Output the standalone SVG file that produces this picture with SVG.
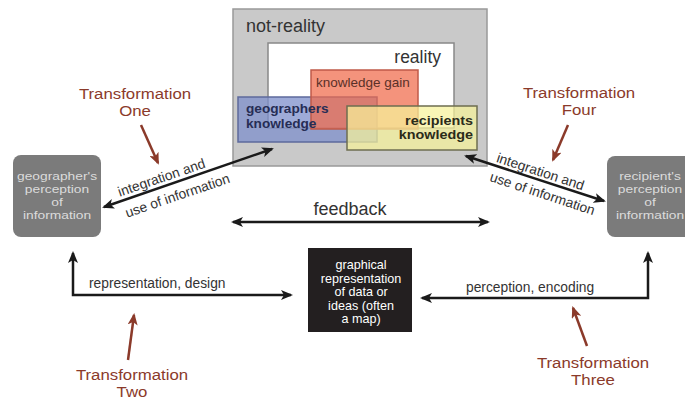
<svg xmlns="http://www.w3.org/2000/svg" width="685" height="403" viewBox="0 0 685 403">
<defs>
<style>
text{font-family:"Liberation Sans",Arial,sans-serif}
.lbl{font-size:13.8px;fill:#333}
.tr{font-size:15px;fill:#8b3a2a;text-anchor:middle}
.node{fill:#7b7b7b}
.ntx{font-size:11.5px;fill:#dcdcdc;text-anchor:middle}
.btx{font-size:12px;fill:#ffffff;text-anchor:middle}
.ar{stroke:#1a1a1a;stroke-width:2.5;fill:none}
.br{stroke:#8b3a2a;stroke-width:2.5;fill:none}
.kb{font-weight:bold}
</style>
<marker id="ah" viewBox="0 0 12 10" refX="10" refY="5" markerWidth="12" markerHeight="10" markerUnits="userSpaceOnUse" orient="auto-start-reverse">
<path d="M0,0 L12,5 L0,10 L3,5 z" fill="#1a1a1a"/>
</marker>
<marker id="bh" viewBox="0 0 12 10" refX="10" refY="5" markerWidth="12" markerHeight="10" markerUnits="userSpaceOnUse" orient="auto">
<path d="M0,0 L12,5 L0,10 L3,5 z" fill="#8b3a2a"/>
</marker>
</defs>
<rect width="685" height="403" fill="#ffffff"/>

<g id="not-reality">
<rect x="233" y="9" width="254" height="157" fill="#c9c9c9" stroke="#999" stroke-width="1.5"/>
<text x="246" y="32" font-size="18" fill="#333">not-reality</text>
</g>
<g id="reality">
<rect x="268" y="43" width="186" height="85" fill="#ffffff" stroke="#888" stroke-width="1.5"/>
<text x="441" y="63" font-size="17.5" fill="#333" text-anchor="end">reality</text>
</g>
<g id="geographers-knowledge">
<rect x="238" y="97" width="139" height="45" fill="#7e8fcb" fill-opacity="0.75" stroke="#5d6a9c" stroke-width="1.5"/>
</g>
<g id="knowledge-gain">
<rect x="311" y="70" width="107" height="59" fill="#f06a4a" fill-opacity="0.72" stroke="#c05a48" stroke-width="1.5"/>
<text x="316" y="87" font-size="13.5" fill="#5a3028">knowledge gain</text>
</g>
<g id="recipients-knowledge">
<rect x="347" y="106" width="130" height="44" fill="#f6f29a" fill-opacity="0.72" stroke="#6e6e50" stroke-width="1.5"/>
<text class="kb" font-size="12.5" transform="translate(473,125) scale(1.15,1)" text-anchor="end" fill="#2b2b1a">recipients</text>
<text class="kb" font-size="12.5" transform="translate(473,139) scale(1.15,1)" text-anchor="end" fill="#2b2b1a">knowledge</text>
</g>
<g id="geographers-label">
<text class="kb" font-size="13" transform="translate(246,113) scale(1.05,1)" fill="#262d55">geographers</text>
<text class="kb" font-size="13" transform="translate(246,128) scale(1.05,1)" fill="#262d55">knowledge</text>
</g>

<g id="geographer-perception">
<rect class="node" x="13" y="155" width="88" height="82" rx="8"/>
<text class="ntx" transform="translate(57,180) scale(1.2,1)">geographer's</text>
<text class="ntx" transform="translate(57,193) scale(1.2,1)">perception</text>
<text class="ntx" transform="translate(57,206) scale(1.2,1)">of</text>
<text class="ntx" transform="translate(57,219) scale(1.2,1)">information</text>
</g>
<g id="recipient-perception">
<rect class="node" x="607" y="156" width="88" height="81" rx="8"/>
<text class="ntx" transform="translate(650,180) scale(1.2,1)">recipient's</text>
<text class="ntx" transform="translate(650,193) scale(1.2,1)">perception</text>
<text class="ntx" transform="translate(650,206) scale(1.2,1)">of</text>
<text class="ntx" transform="translate(650,219) scale(1.2,1)">information</text>
</g>
<g id="graphical-representation">
<rect x="308" y="248" width="104" height="84" fill="#231f20"/>
<text class="btx" transform="translate(361,269) scale(1.05,1)">graphical</text>
<text class="btx" transform="translate(361,282.5) scale(1.05,1)">representation</text>
<text class="btx" transform="translate(361,296) scale(1.05,1)">of data or</text>
<text class="btx" transform="translate(361,309.5) scale(1.05,1)">ideas (often</text>
<text class="btx" transform="translate(361,323) scale(1.05,1)">a map)</text>
</g>

<g id="transformation-labels">
<text class="tr" transform="translate(135,99) scale(1.12,1)">Transformation</text>
<text class="tr" transform="translate(135,116) scale(1.12,1)">One</text>
<text class="tr" transform="translate(579,98) scale(1.12,1)">Transformation</text>
<text class="tr" transform="translate(579,115) scale(1.12,1)">Four</text>
<text class="tr" transform="translate(132,380) scale(1.12,1)">Transformation</text>
<text class="tr" transform="translate(132,397) scale(1.12,1)">Two</text>
<text class="tr" transform="translate(593,368) scale(1.12,1)">Transformation</text>
<text class="tr" transform="translate(593,385) scale(1.12,1)">Three</text>
</g>

<g id="connectors">
<line class="ar" x1="104" y1="207" x2="272" y2="149" marker-start="url(#ah)" marker-end="url(#ah)"/>
<line class="ar" x1="466" y1="156" x2="604" y2="201" marker-start="url(#ah)" marker-end="url(#ah)"/>
<line class="ar" x1="233" y1="222" x2="488" y2="222" marker-start="url(#ah)" marker-end="url(#ah)"/>
<polyline class="ar" points="291,295 73,295 73,253" marker-start="url(#ah)" marker-end="url(#ah)"/>
<polyline class="ar" points="422,298 648,298 648,253" marker-start="url(#ah)" marker-end="url(#ah)"/>
<line class="br" x1="141" y1="125" x2="158" y2="163" marker-end="url(#bh)"/>
<line class="br" x1="568" y1="125" x2="553" y2="160" marker-end="url(#bh)"/>
<line class="br" x1="128" y1="360" x2="134" y2="315" marker-end="url(#bh)"/>
<line class="br" x1="587" y1="346" x2="573" y2="308" marker-end="url(#bh)"/>
<text class="lbl" transform="translate(163,182) rotate(-19)" text-anchor="middle">integration and</text>
<text class="lbl" transform="translate(179,200) rotate(-19)" text-anchor="middle">use of information</text>
<text class="lbl" transform="translate(539,176) rotate(18.3)" text-anchor="middle">integration and</text>
<text class="lbl" transform="translate(541,198) rotate(18.3)" text-anchor="middle">use of information</text>
<text x="350" y="215" font-size="18" fill="#333" text-anchor="middle">feedback</text>
<text class="lbl" x="89" y="288">representation, design</text>
<text class="lbl" x="466" y="292">perception, encoding</text>
</g>
</svg>
